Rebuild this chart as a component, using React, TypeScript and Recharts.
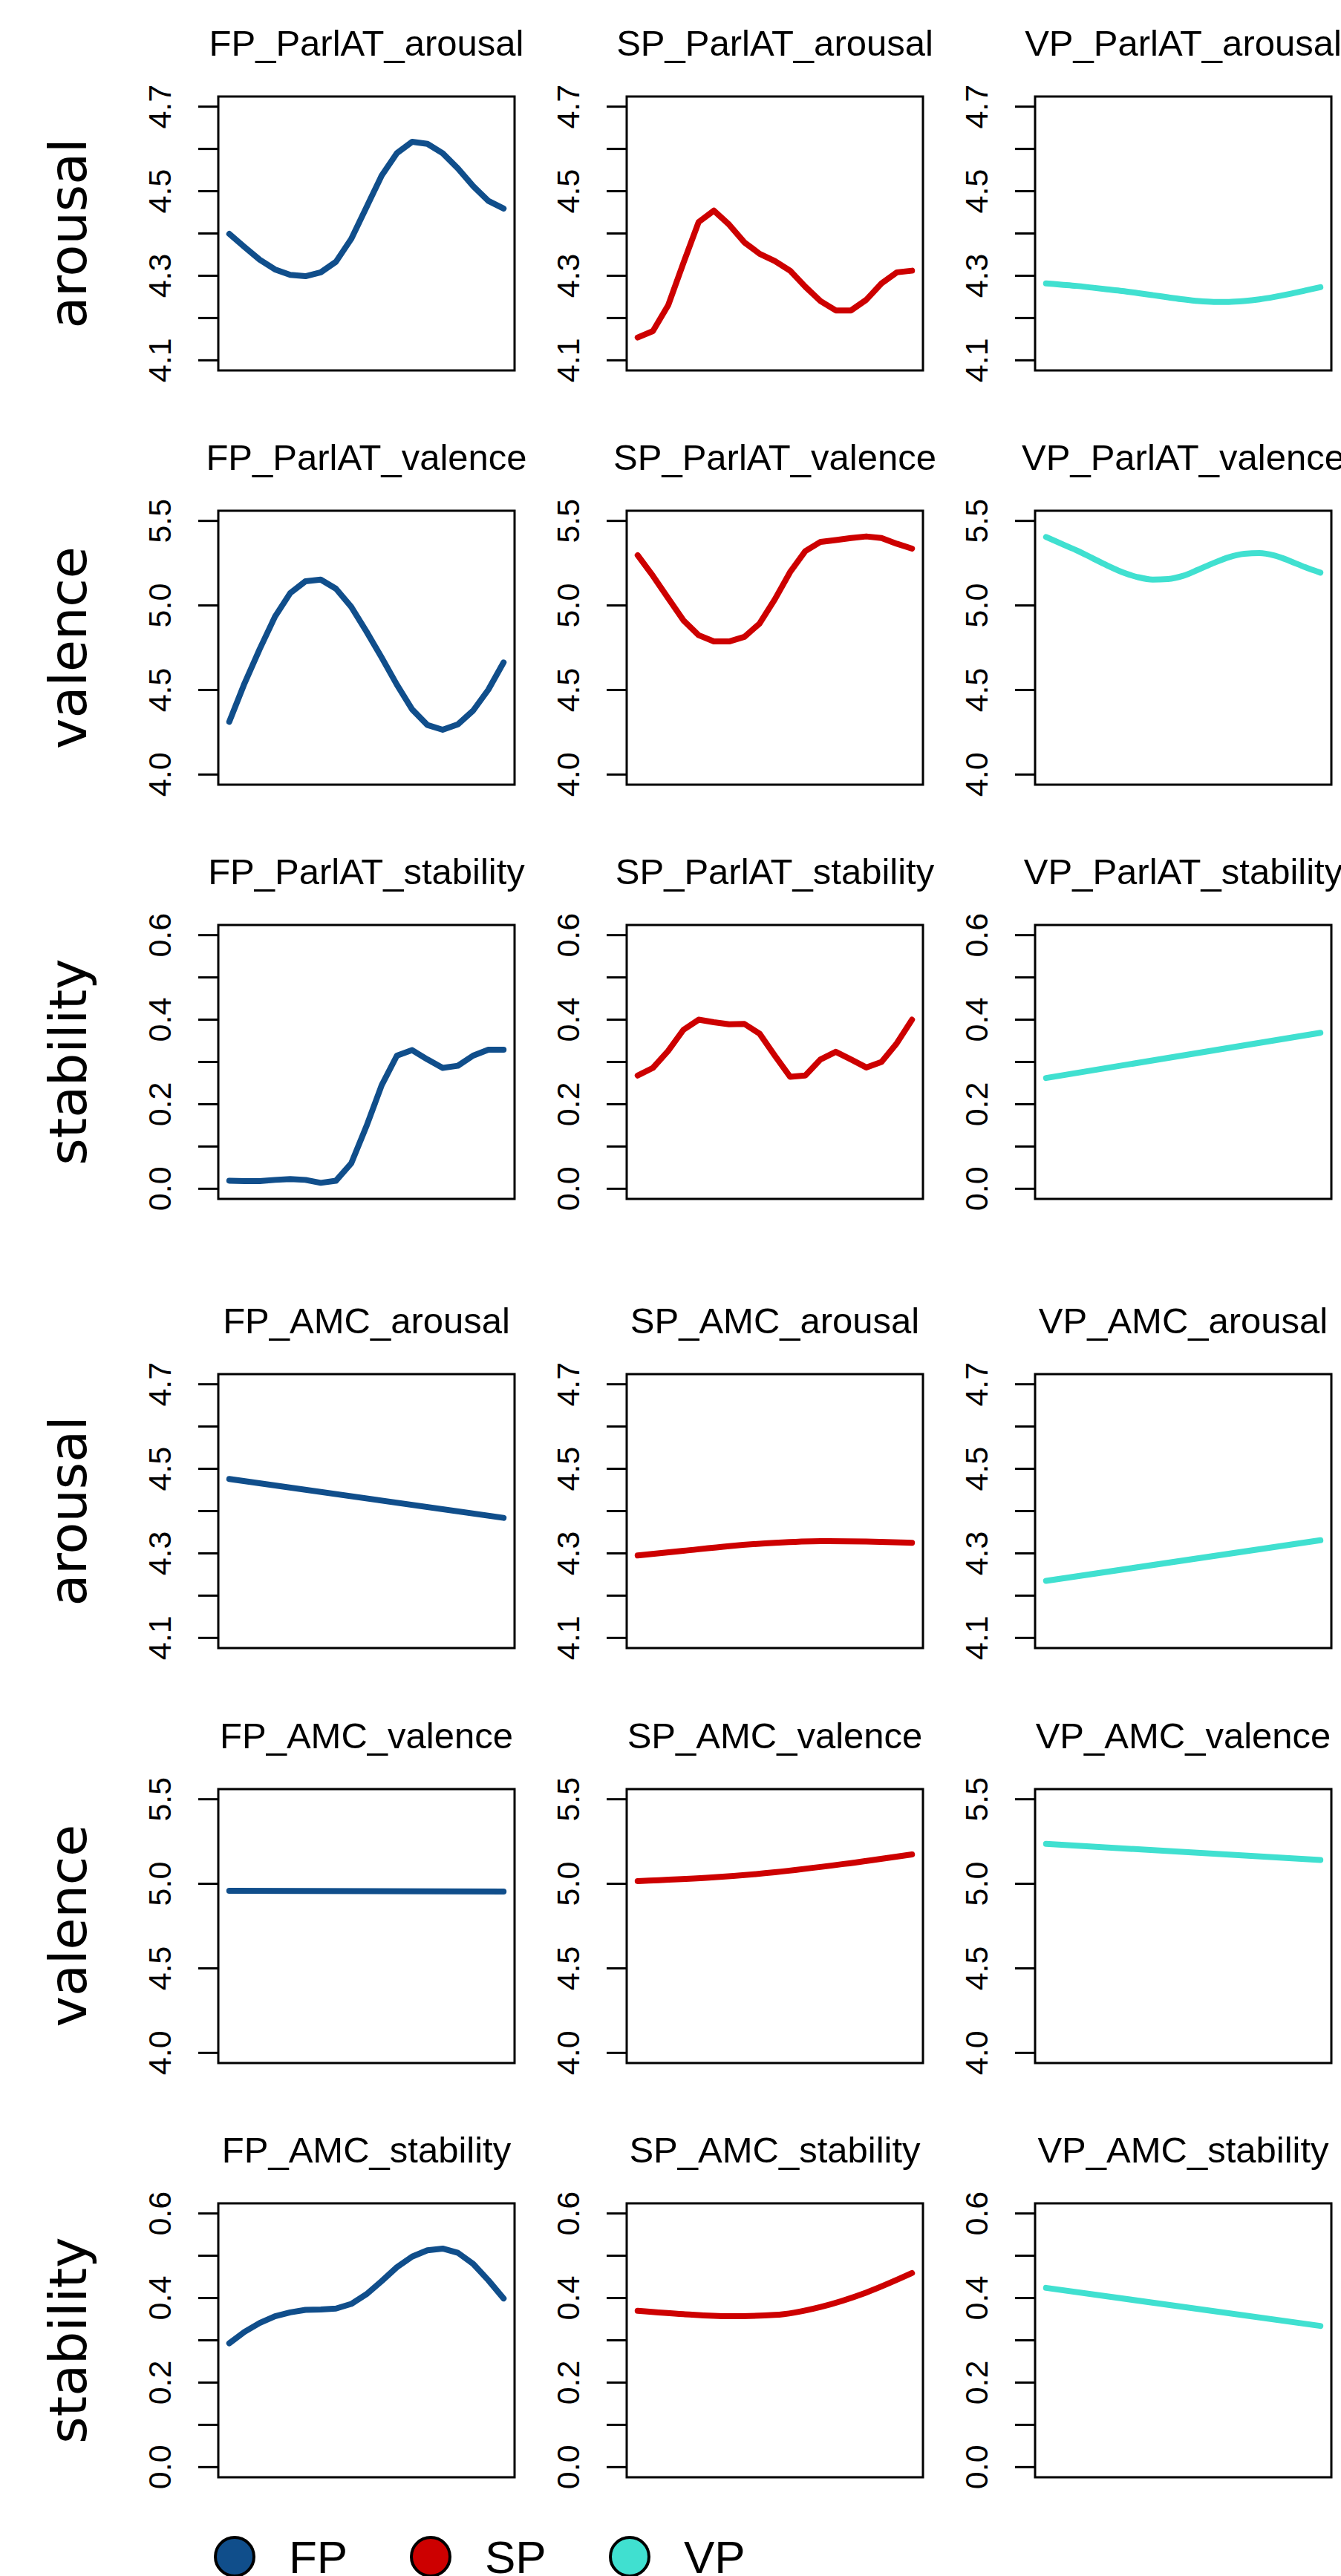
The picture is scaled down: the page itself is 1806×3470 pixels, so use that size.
import React from "react";
import { LineChart, Line, XAxis, YAxis, ReferenceArea } from "recharts";

// ---------- categories ----------
const PARTIES = ["FP", "SP", "VP"];
const CORPORA = ["ParlAT", "AMC"];
const MEASURES = ["arousal", "valence", "stability"];

// ---------- x positions (time index) ----------
const X19 = [1, 2, 3, 4, 5, 6, 7, 8, 9, 10, 11, 12, 13, 14, 15, 16, 17, 18, 19];
const X7 = [1, 4, 7, 10, 13, 16, 19];
const X5 = [1, 5.5, 10, 14.5, 19];
const X2 = [1, 19];

// ---------- series values ----------
const FP_ParlAT_arousal = [4.399, 4.368, 4.338, 4.315, 4.302, 4.299, 4.308, 4.333, 4.387, 4.462, 4.537, 4.59, 4.617, 4.612, 4.59, 4.554, 4.512, 4.477, 4.459];
const SP_ParlAT_arousal = [4.154, 4.169, 4.23, 4.33, 4.427, 4.454, 4.421, 4.379, 4.352, 4.335, 4.312, 4.274, 4.24, 4.218, 4.218, 4.243, 4.282, 4.308, 4.312];
const VP_ParlAT_arousal = [4.282, 4.279, 4.276, 4.272, 4.268, 4.264, 4.259, 4.254, 4.249, 4.244, 4.24, 4.238, 4.238, 4.24, 4.244, 4.25, 4.257, 4.265, 4.273];

const FP_ParlAT_valence = [4.312, 4.539, 4.743, 4.934, 5.073, 5.143, 5.153, 5.099, 4.992, 4.846, 4.692, 4.531, 4.385, 4.293, 4.265, 4.297, 4.378, 4.502, 4.663];
const SP_ParlAT_valence = [5.297, 5.175, 5.043, 4.912, 4.824, 4.787, 4.787, 4.814, 4.893, 5.036, 5.197, 5.321, 5.376, 5.387, 5.399, 5.408, 5.399, 5.365, 5.336];
const VP_ParlAT_valence = [5.405, 5.365, 5.326, 5.282, 5.237, 5.197, 5.168, 5.153, 5.156, 5.175, 5.212, 5.251, 5.285, 5.305, 5.31, 5.295, 5.263, 5.226, 5.194];

const FP_ParlAT_stability = [0.019, 0.018, 0.018, 0.021, 0.023, 0.021, 0.014, 0.019, 0.06, 0.148, 0.245, 0.315, 0.328, 0.306, 0.286, 0.291, 0.315, 0.329, 0.329];
const SP_ParlAT_stability = [0.268, 0.286, 0.326, 0.376, 0.4, 0.394, 0.389, 0.39, 0.367, 0.315, 0.265, 0.268, 0.306, 0.324, 0.306, 0.287, 0.3, 0.344, 0.4];
const VP_ParlAT_stability = [0.262, 0.369];

const FP_AMC_arousal = [4.476, 4.384];
const SP_AMC_arousal = [4.295, 4.306, 4.317, 4.325, 4.329, 4.328, 4.325];
const VP_AMC_arousal = [4.235, 4.331];

const FP_AMC_valence = [4.959, 4.954];
const SP_AMC_valence = [5.016, 5.035, 5.068, 5.117, 5.174];
const VP_AMC_valence = [5.236, 5.141];

const FP_AMC_stability = [0.293, 0.32, 0.341, 0.357, 0.366, 0.372, 0.373, 0.375, 0.386, 0.409, 0.44, 0.473, 0.498, 0.513, 0.517, 0.507, 0.481, 0.442, 0.399];
const SP_AMC_stability = [0.37, 0.362, 0.357, 0.36, 0.379, 0.413, 0.459];
const VP_AMC_stability = [0.424, 0.334];

// ---------- tick values ----------
const AROUSAL_TICKS = [4.1, 4.2, 4.3, 4.4, 4.5, 4.6, 4.7];
const AROUSAL_LABELS = [4.1, 4.3, 4.5, 4.7];
const VALENCE_TICKS = [4.0, 4.5, 5.0, 5.5];
const VALENCE_LABELS = [4.0, 4.5, 5.0, 5.5];
const STABILITY_TICKS = [0.0, 0.1, 0.2, 0.3, 0.4, 0.5, 0.6];
const STABILITY_LABELS = [0.0, 0.2, 0.4, 0.6];

// ---------- lookup tables built from the arrays ----------
const SERIES: Record<string, { x: number[]; y: number[]; curve: "linear" | "monotone" }> = {
  FP_ParlAT_arousal: { x: X19, y: FP_ParlAT_arousal, curve: "linear" },
  SP_ParlAT_arousal: { x: X19, y: SP_ParlAT_arousal, curve: "linear" },
  VP_ParlAT_arousal: { x: X19, y: VP_ParlAT_arousal, curve: "monotone" },
  FP_ParlAT_valence: { x: X19, y: FP_ParlAT_valence, curve: "linear" },
  SP_ParlAT_valence: { x: X19, y: SP_ParlAT_valence, curve: "linear" },
  VP_ParlAT_valence: { x: X19, y: VP_ParlAT_valence, curve: "monotone" },
  FP_ParlAT_stability: { x: X19, y: FP_ParlAT_stability, curve: "linear" },
  SP_ParlAT_stability: { x: X19, y: SP_ParlAT_stability, curve: "linear" },
  VP_ParlAT_stability: { x: X2, y: VP_ParlAT_stability, curve: "linear" },
  FP_AMC_arousal: { x: X2, y: FP_AMC_arousal, curve: "linear" },
  SP_AMC_arousal: { x: X7, y: SP_AMC_arousal, curve: "monotone" },
  VP_AMC_arousal: { x: X2, y: VP_AMC_arousal, curve: "linear" },
  FP_AMC_valence: { x: X2, y: FP_AMC_valence, curve: "linear" },
  SP_AMC_valence: { x: X5, y: SP_AMC_valence, curve: "monotone" },
  VP_AMC_valence: { x: X2, y: VP_AMC_valence, curve: "linear" },
  FP_AMC_stability: { x: X19, y: FP_AMC_stability, curve: "linear" },
  SP_AMC_stability: { x: X7, y: SP_AMC_stability, curve: "monotone" },
  VP_AMC_stability: { x: X2, y: VP_AMC_stability, curve: "linear" },
};

const AXES: Record<string, { ticks: number[]; labels: number[] }> = {
  arousal: { ticks: AROUSAL_TICKS, labels: AROUSAL_LABELS },
  valence: { ticks: VALENCE_TICKS, labels: VALENCE_LABELS },
  stability: { ticks: STABILITY_TICKS, labels: STABILITY_LABELS },
};

// ---------- styles / layout ----------
const COLORS: Record<string, string> = { FP: "#104E8B", SP: "#CD0000", VP: "#40E0D0" };
const BOX_LEFT = [294, 844, 1394];
const BOX_TOP = [130, 688, 1246, 1851, 2409.5, 2968];
const BOX_W = 399;
const BOX_H = 369;
const AXIS_W = 110;
const PAD = 20;
const SANS = "'Liberation Sans', Arial, Helvetica, sans-serif";
const ROWLAB = "'DejaVu Sans', Verdana, sans-serif";

// R-style 4% axis extension
const ext = (lo: number, hi: number): [number, number] => {
  const d = (hi - lo) * 0.04;
  return [lo - d, hi + d];
};

const makeTick = (labels: number[]) => (props: any) => {
  const { x, y, payload } = props;
  const v = Number(payload.value);
  const labeled = labels.some((l) => Math.abs(l - v) < 1e-9);
  return (
    <g>
      <line x1={x - 27} x2={x} y1={y} y2={y} stroke="#000" strokeWidth={3} />
      {labeled && (
        <text
          transform={`translate(${x - 64},${y}) rotate(-90)`}
          textAnchor="middle"
          fontFamily={SANS}
          fontSize={43}
          fill="#000"
        >
          {v.toFixed(1)}
        </text>
      )}
    </g>
  );
};

function Panel({ party, corpus, measure, left, top }: any) {
  const key = `${party}_${corpus}_${measure}`;
  const s = SERIES[key];
  const ax = AXES[measure];
  const data = s.x.map((xv, i) => ({ x: xv, y: s.y[i] }));
  const xd = ext(X19[0], X19[X19.length - 1]);
  const yd = ext(ax.ticks[0], ax.ticks[ax.ticks.length - 1]);
  return (
    <div style={{ position: "absolute", left: left - AXIS_W, top: top - PAD }}>
      <LineChart
        width={AXIS_W + BOX_W + PAD}
        height={BOX_H + 2 * PAD}
        data={data}
        margin={{ top: PAD, right: PAD, bottom: PAD, left: 0 }}
      >
        <XAxis dataKey="x" type="number" domain={xd} hide allowDataOverflow />
        <YAxis
          type="number"
          domain={yd}
          ticks={ax.ticks}
          interval={0}
          width={AXIS_W}
          tickSize={0}
          tickMargin={0}
          axisLine={false}
          tickLine={false}
          allowDataOverflow
          tick={makeTick(ax.labels)}
        />
        <ReferenceArea
          x1={xd[0]}
          x2={xd[1]}
          y1={yd[0]}
          y2={yd[1]}
          fill="none"
          fillOpacity={0}
          stroke="#000"
          strokeWidth={3}
          ifOverflow="visible"
        />
        <Line
          dataKey="y"
          type={s.curve}
          stroke={COLORS[party]}
          strokeWidth={8}
          strokeLinecap="round"
          strokeLinejoin="round"
          dot={false}
          activeDot={false}
          isAnimationActive={false}
        />
      </LineChart>
    </div>
  );
}

export default function App() {
  const rows: { corpus: string; measure: string; top: number }[] = [];
  CORPORA.forEach((corpus, gi) =>
    MEASURES.forEach((measure, mi) => rows.push({ corpus, measure, top: BOX_TOP[gi * 3 + mi] }))
  );
  const legendX = [316, 580, 848];
  return (
    <div
      style={{
        position: "absolute",
        left: 0,
        top: 0,
        width: 1806,
        height: 3470,
        overflow: "hidden",
        background: "#fff",
      }}
    >
      {rows.map((r) =>
        PARTIES.map((p, ci) => (
          <Panel key={`${p}_${r.corpus}_${r.measure}`} party={p} corpus={r.corpus} measure={r.measure} left={BOX_LEFT[ci]} top={r.top} />
        ))
      )}
      <svg
        width={1806}
        height={3470}
        style={{ position: "absolute", left: 0, top: 0, pointerEvents: "none" }}
      >
        {rows.map((r) =>
          PARTIES.map((p, ci) => (
            <text
              key={`t_${p}_${r.corpus}_${r.measure}`}
              x={BOX_LEFT[ci] + BOX_W / 2}
              y={r.top - 55}
              textAnchor="middle"
              fontFamily={SANS}
              fontSize={49}
              fill="#000"
            >
              {`${p}_${r.corpus}_${r.measure}`}
            </text>
          ))
        )}
        {rows.map((r, i) => (
          <text
            key={`rl_${i}`}
            transform={`translate(116,${r.top + BOX_H / 2}) rotate(-90)`}
            textAnchor="middle"
            fontFamily={ROWLAB}
            fontSize={70}
            fill="#000"
          >
            {r.measure}
          </text>
        ))}
        {PARTIES.map((p, i) => (
          <g key={`lg_${p}`}>
            <circle cx={legendX[i]} cy={3444} r={26} fill={COLORS[p]} stroke="#000" strokeWidth={4} />
            <text x={legendX[i] + 73} y={3466} fontFamily={SANS} fontSize={62} fill="#000">
              {p}
            </text>
          </g>
        ))}
      </svg>
    </div>
  );
}
